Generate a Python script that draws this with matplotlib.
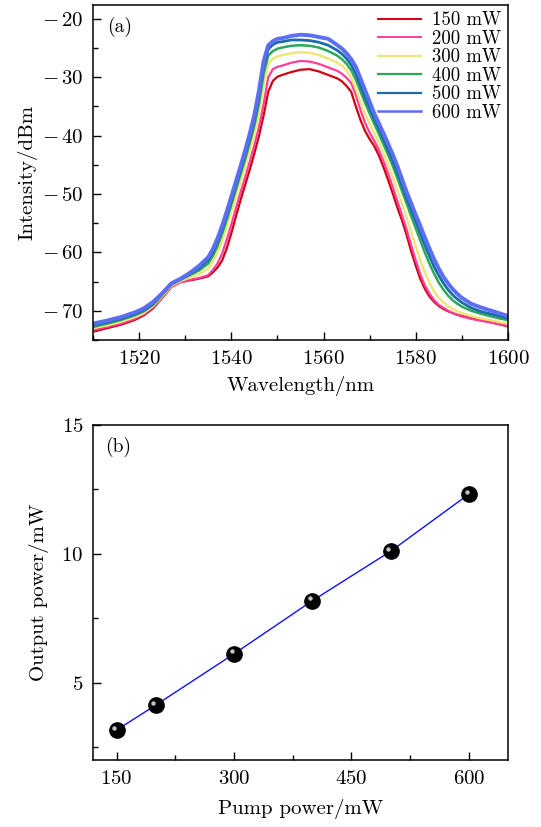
import matplotlib
matplotlib.use("Agg")
import matplotlib.pyplot as plt
import matplotlib.transforms as mtransforms
from matplotlib.ticker import MultipleLocator, FixedLocator, FuncFormatter

plt.rcParams['font.family'] = 'serif'
plt.rcParams['font.serif'] = ['cmr10', 'DejaVu Serif']
plt.rcParams['mathtext.fontset'] = 'cm'
plt.rcParams['axes.unicode_minus'] = False

# ---------------- data: panel (a) ----------------
wavelength = [1510, 1513, 1516, 1519, 1521, 1523, 1525, 1527, 1529, 1531, 1533,
              1535, 1536, 1537, 1538, 1539, 1540, 1541, 1542, 1543, 1544, 1545,
              1546, 1547, 1548, 1549, 1550, 1551, 1553, 1555, 1557, 1559, 1561,
              1563, 1564, 1565, 1566, 1567, 1568, 1569, 1570, 1571, 1572, 1573,
              1574, 1575, 1576, 1577, 1578, 1579, 1580, 1581, 1582, 1583, 1584,
              1585, 1586, 1587, 1588, 1589, 1590, 1592, 1594, 1596, 1598, 1600]

p150 = [-73.6, -73.0, -72.4, -71.6, -70.8, -69.6, -67.8, -65.9, -65.1, -64.8, -64.5,
        -64.1, -63.4, -62.6, -61.4, -59.3, -56.7, -53.8, -51.0, -48.4, -45.8, -43.0,
        -40.0, -36.5, -32.5, -30.6, -29.9, -29.6, -29.1, -28.7, -28.6, -29.0, -29.6,
        -30.2, -30.7, -31.5, -32.5, -35.0, -37.3, -39.2, -40.6, -41.8, -43.4, -45.4,
        -47.6, -49.9, -52.3, -54.5, -57.0, -59.8, -62.3, -64.6, -66.3, -67.6, -68.5,
        -69.2, -69.7, -70.1, -70.4, -70.7, -70.9, -71.3, -71.6, -71.9, -72.3, -72.7]

p200 = [-73.3, -72.8, -72.2, -71.4, -70.6, -69.4, -67.7, -65.8, -65.1, -64.7, -64.4,
        -63.9, -63.0, -61.9, -60.2, -57.8, -55.2, -52.4, -49.7, -47.1, -44.4, -41.6,
        -38.5, -34.6, -30.0, -28.6, -28.2, -28.0, -27.5, -27.2, -27.3, -27.7, -28.3,
        -28.9, -29.4, -30.1, -31.0, -33.0, -35.6, -37.8, -39.5, -40.9, -42.5, -44.4,
        -46.5, -48.8, -51.2, -53.6, -56.1, -58.8, -61.4, -63.8, -65.7, -67.1, -68.2,
        -69.0, -69.5, -70.0, -70.4, -70.7, -71.0, -71.4, -71.7, -72.0, -72.3, -72.6]

p300 = [-73.0, -72.5, -71.9, -71.1, -70.4, -69.2, -67.5, -65.7, -64.9, -64.3, -63.7,
        -62.8, -61.6, -60.0, -58.0, -55.6, -53.0, -50.4, -47.8, -45.2, -42.5, -39.6,
        -36.2, -31.4, -27.6, -26.8, -26.4, -26.2, -25.9, -25.7, -25.8, -26.2, -26.8,
        -27.5, -28.0, -28.8, -30.0, -32.0, -34.3, -36.3, -38.0, -39.6, -41.2, -43.0,
        -45.0, -47.1, -49.3, -51.6, -54.0, -56.5, -59.0, -61.4, -63.5, -65.3, -66.7,
        -67.8, -68.6, -69.2, -69.7, -70.1, -70.4, -70.9, -71.3, -71.6, -71.9, -72.2]

p400 = [-72.8, -72.2, -71.6, -70.8, -70.1, -69.0, -67.3, -65.5, -64.7, -63.9, -63.1,
        -61.9, -60.6, -58.9, -56.8, -54.4, -51.8, -49.2, -46.6, -44.0, -41.2, -38.2,
        -34.4, -29.4, -26.3, -25.5, -25.1, -24.9, -24.6, -24.5, -24.6, -24.9, -25.5,
        -26.3, -26.9, -27.7, -28.8, -30.4, -32.4, -34.4, -36.2, -38.0, -39.7, -41.5,
        -43.3, -45.2, -47.3, -49.5, -51.6, -53.8, -55.9, -58.0, -60.1, -62.0, -63.7,
        -65.2, -66.4, -67.4, -68.2, -68.8, -69.3, -70.0, -70.5, -70.9, -71.3, -71.6]

p500 = [-72.5, -72.0, -71.4, -70.6, -69.9, -68.8, -67.1, -65.4, -64.6, -63.7, -62.7,
        -61.3, -60.0, -58.2, -56.1, -53.7, -51.1, -48.5, -45.9, -43.2, -40.4, -37.3,
        -33.2, -28.2, -25.2, -24.4, -24.0, -23.9, -23.6, -23.6, -23.7, -24.0, -24.5,
        -25.4, -26.0, -26.8, -27.9, -29.4, -31.4, -33.4, -35.3, -37.1, -38.8, -40.6,
        -42.4, -44.3, -46.3, -48.5, -50.6, -52.7, -54.7, -56.8, -58.8, -60.7, -62.5,
        -64.0, -65.3, -66.4, -67.3, -68.0, -68.6, -69.5, -70.1, -70.5, -70.9, -71.3]

p600 = [-72.2, -71.7, -71.1, -70.3, -69.6, -68.5, -67.0, -65.3, -64.5, -63.5, -62.3,
        -60.8, -59.4, -57.6, -55.4, -53.0, -50.4, -47.8, -45.2, -42.5, -39.6, -36.4,
        -32.2, -27.2, -24.5, -23.8, -23.4, -23.3, -22.9, -22.7, -22.8, -23.1, -23.4,
        -24.5, -25.1, -25.9, -26.9, -28.2, -30.2, -32.2, -34.2, -36.2, -37.9, -39.6,
        -41.4, -43.2, -45.2, -47.4, -49.6, -51.6, -53.6, -55.5, -57.5, -59.4, -61.2,
        -62.8, -64.2, -65.3, -66.3, -67.1, -67.8, -68.8, -69.4, -69.9, -70.4, -70.9]

spectra_labels = ['150 mW', '200 mW', '300 mW', '400 mW', '500 mW', '600 mW']
spectra = [p150, p200, p300, p400, p500, p600]
spectra_colors = ['#d10010', '#ff3d9a', '#efe67a', '#2aa95a', '#1a6cab', '#5c6ef5']
spectra_lw = [1.6, 1.6, 1.8, 1.8, 2.0, 2.8]
legend_lw = [1.4, 1.4, 1.6, 1.6, 1.6, 1.8]

# ---------------- data: panel (b) ----------------
pump_power = [150, 200, 300, 400, 500, 600]
output_power = [3.16, 4.13, 6.12, 8.18, 10.1, 12.32]

FS = 15

fig = plt.figure(figsize=(5.41, 8.27), dpi=100)
ax1 = fig.add_axes([0.172, 0.589, 0.767, 0.405])
ax2 = fig.add_axes([0.172, 0.081, 0.767, 0.405])

# ---- panel (a) ----
for y, lab, c, lw in zip(spectra, spectra_labels, spectra_colors, spectra_lw):
    ax1.plot(wavelength, y, color=c, lw=lw, label=lab, solid_joinstyle='round')

ax1.set_xlim(1510, 1600)
ax1.set_ylim(-75, -17.6)
ax1.xaxis.set_major_locator(MultipleLocator(20))
ax1.xaxis.set_minor_locator(MultipleLocator(10))
ax1.yaxis.set_major_locator(MultipleLocator(10))
ax1.yaxis.set_minor_locator(MultipleLocator(5))

def neg_fmt(v, p):
    if v < 0:
        return r"$-\,%d$" % abs(round(v))
    return r"$%d$" % round(v)

ax1.yaxis.set_major_formatter(FuncFormatter(neg_fmt))
ax1.xaxis.set_major_formatter(FuncFormatter(lambda v, p: r"$%d$" % round(v)))
ax1.set_xlabel('Wavelength/nm', fontsize=FS, labelpad=6)
ax1.set_ylabel('Intensity/dBm', fontsize=FS, labelpad=3)
ax1.text(0.035, 0.965, '(a)', transform=ax1.transAxes, fontsize=FS - 1,
         va='top', ha='left')
leg = ax1.legend(loc='upper right', frameon=False, fontsize=13.5,
                 handlelength=2.3, handletextpad=0.6, labelspacing=0.03,
                 borderaxespad=0.2, borderpad=0.15)
for h, lw in zip(leg.get_lines(), legend_lw):
    h.set_linewidth(lw)

# ---- panel (b) ----
ax2.plot(pump_power, output_power, color='#1010ff', lw=1.0, zorder=2)
ax2.plot(pump_power, output_power, 'o', ms=11, color='black', zorder=3)
hl = mtransforms.offset_copy(ax2.transData, fig=fig, x=-1.6, y=1.8, units='points')
ax2.plot(pump_power, output_power, 'o', ms=3.2, color='#d8d8d8', mec='none',
         alpha=0.9, transform=hl, zorder=4)

ax2.set_xlim(120, 650)
ax2.set_ylim(2, 15)
ax2.xaxis.set_major_locator(FixedLocator([150, 300, 450, 600]))
ax2.xaxis.set_minor_locator(FixedLocator([225, 375, 525]))
ax2.yaxis.set_major_locator(FixedLocator([5, 10, 15]))
ax2.yaxis.set_minor_locator(FixedLocator([2.5, 7.5, 12.5]))
ax2.xaxis.set_major_formatter(FuncFormatter(lambda v, p: r"$%d$" % round(v)))
ax2.yaxis.set_major_formatter(FuncFormatter(lambda v, p: r"$%d$" % round(v)))
ax2.set_xlabel('Pump power/mW', fontsize=FS, labelpad=8)
ax2.set_ylabel('Output power/mW', fontsize=FS, labelpad=9)
ax2.text(0.03, 0.965, '(b)', transform=ax2.transAxes, fontsize=FS - 1,
         va='top', ha='left')

for ax in (ax1, ax2):
    for s in ax.spines.values():
        s.set_linewidth(1.1)
    ax.tick_params(which='both', direction='in', top=False, right=False,
                   labelsize=FS, width=1.0)
    ax.tick_params(which='major', length=6, pad=7)
    ax.tick_params(which='minor', length=3.5)

fig.savefig('out.png', dpi=100)
